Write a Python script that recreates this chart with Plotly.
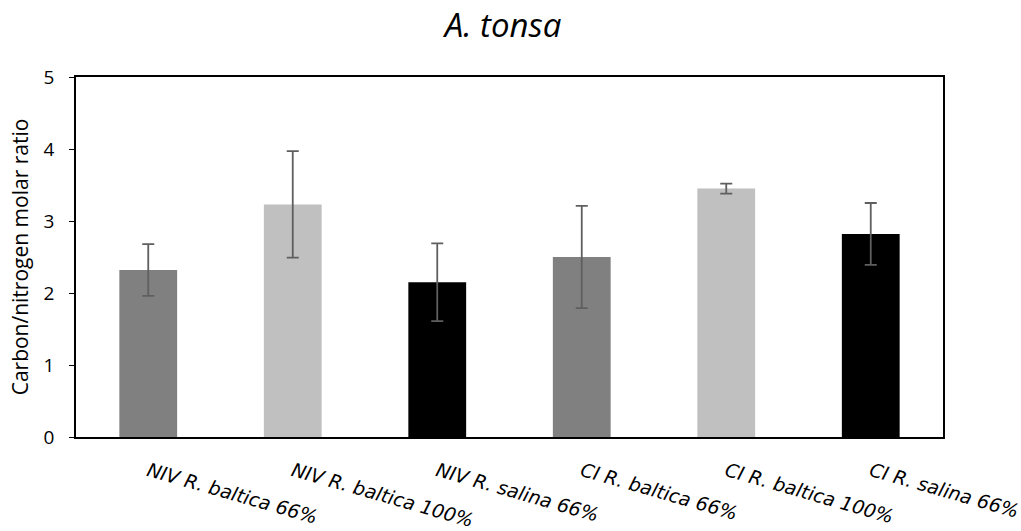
import plotly.graph_objects as go

# Treatments on the x axis
categories = [
    "NIV R. baltica 66%",
    "NIV R. baltica 100%",
    "NIV R. salina 66%",
    "CI R. baltica 66%",
    "CI R. baltica 100%",
    "CI R. salina 66%",
]
# Mean C/N molar ratio and standard deviation per treatment
cn_ratio = [2.32, 3.23, 2.15, 2.50, 3.45, 2.82]
cn_sd = [0.36, 0.74, 0.54, 0.71, 0.07, 0.43]
bar_colors = ["#808080", "#C0C0C0", "#000000", "#808080", "#C0C0C0", "#000000"]

y_ticks = [0, 1, 2, 3, 4, 5]

FONT = "Open Sans"
LABEL_FONT = "DejaVu Sans"

fig = go.Figure(
    go.Bar(
        x=categories,
        y=cn_ratio,
        marker=dict(color=bar_colors, line=dict(width=0)),
        width=0.4,
        error_y=dict(
            type="data",
            array=cn_sd,
            visible=True,
            color="#5f5f5f",
            thickness=1.8,
            width=6,
        ),
    )
)

fig.update_layout(
    width=1021,
    height=531,
    margin=dict(l=76, r=78, t=77, b=94),
    paper_bgcolor="white",
    plot_bgcolor="white",
    showlegend=False,
    font=dict(family=FONT, color="#000000"),
    title=dict(
        text="A. tonsa",
        font=dict(family=FONT, size=33, style="italic", color="#000000"),
        x=0.4927,
        xanchor="center",
        y=1 - 25 / 531,
        yanchor="middle",
    ),
)

fig.update_xaxes(
    type="category",
    automargin=False,
    showline=True,
    linecolor="black",
    linewidth=2,
    mirror=True,
    ticks="",
    tickangle=16,
    ticklabelstandoff=14,
    tickfont=dict(family=LABEL_FONT, size=19, style="italic", color="#000000"),
    showgrid=False,
)

fig.update_yaxes(
    range=[0, 5],
    tickvals=y_ticks,
    automargin=False,
    showline=True,
    linecolor="black",
    linewidth=1.5,
    mirror=True,
    ticks="outside",
    ticklen=5,
    tickcolor="black",
    ticklabelstandoff=11,
    tickfont=dict(family=FONT, size=19, color="#000000"),
    showgrid=False,
    zeroline=False,
    title=dict(
        text="Carbon/nitrogen molar ratio",
        font=dict(family=FONT, size=21, color="#000000"),
        standoff=9,
    ),
)

fig.write_html("out.html")
